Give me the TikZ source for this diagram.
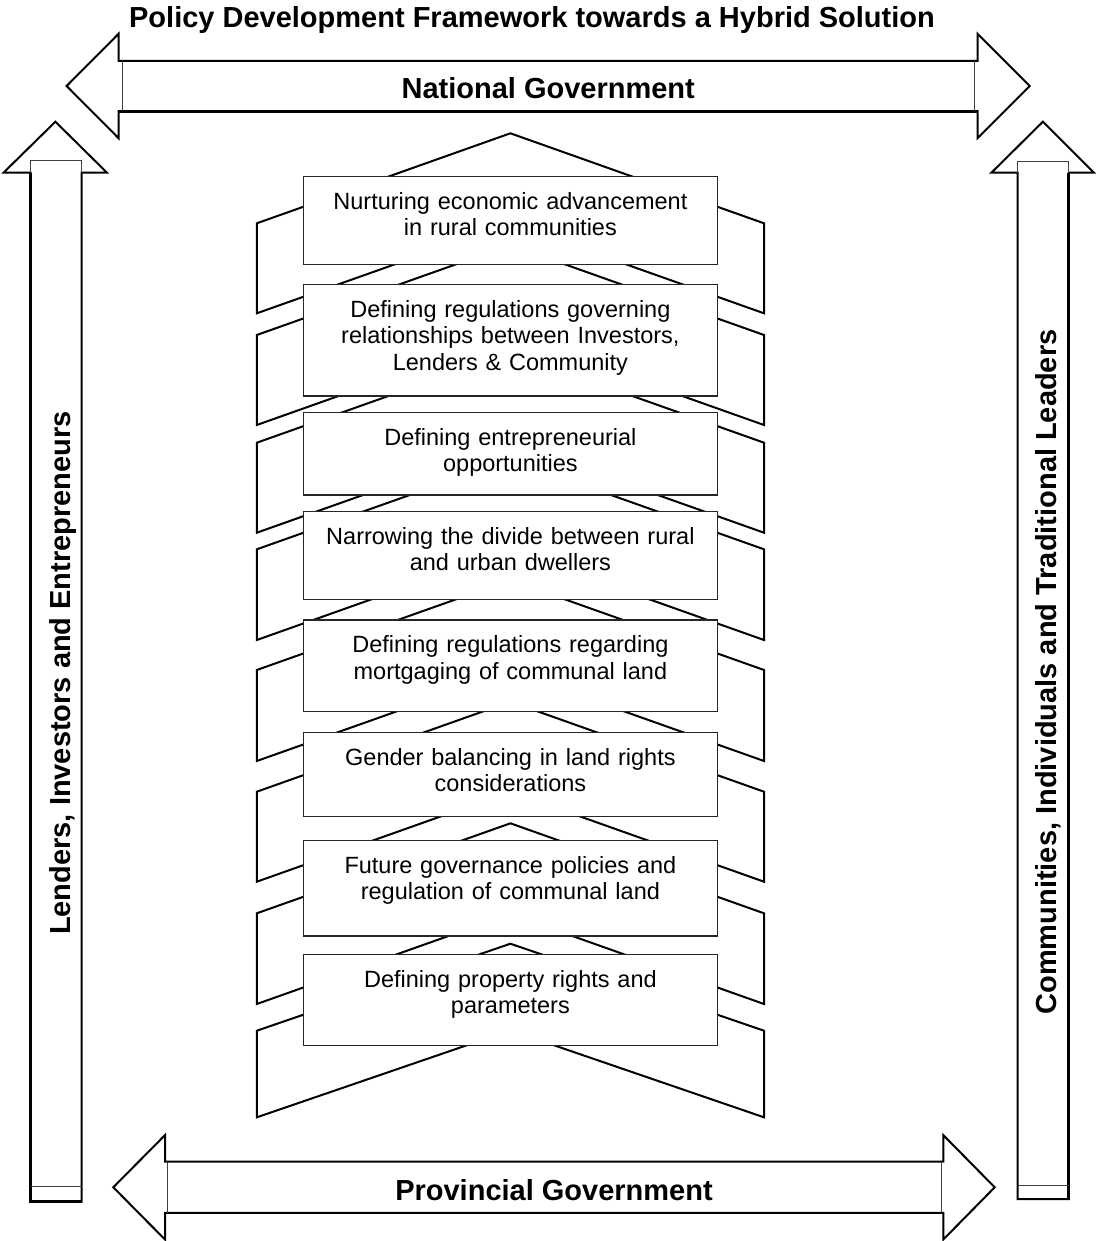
\documentclass[tikz,border=0pt]{standalone}
\usepackage{fontspec}
\setmainfont{Liberation Sans}
\begin{document}
\begin{tikzpicture}[x=1pt,y=-1pt,
  outl/.style={draw=black, line width=2pt, line join=miter, fill=white},
  thickside/.style={draw=black, line width=2.8pt},
  innerline/.style={draw=black!75, line width=0.9pt},
  chev/.style={draw=black, line width=2pt, line join=miter},
  box/.style={draw=black!85, line width=1.2pt, fill=white, minimum width=413.5pt, inner sep=0pt},
  boxtext/.style={font=\fontsize{23.5}{26.6}\selectfont, align=center, text width=410pt, inner sep=0pt, anchor=base},
  big/.style={font=\fontsize{29}{34}\selectfont\bfseries, inner sep=0pt, anchor=base}]
\useasboundingbox (0,0) rectangle (1095,1241);

% title
\node[big] (title) at (532,27.5) {Policy Development Framework towards a Hybrid Solution};

% top double arrow
\draw[outl] (66.6,86) -- (118.6,33.8) -- (118.6,60.8) -- (977.5,60.8) -- (977.5,33.8) -- (1029.7,86)
  -- (977.5,138.2) -- (977.5,111.2) -- (118.6,111.2) -- (118.6,138.2) -- cycle;
\draw[thickside] (118.6,111.2) -- (977.5,111.2);
\draw[innerline] (122,60.8) -- (122,111.2);
\draw[innerline] (974.7,60.8) -- (974.7,111.2);
\node[big] (natgov) at (548.2,98.3) {National Government};

% bottom double arrow
\draw[outl] (113.3,1187.3) -- (165,1135.1) -- (165,1161.7) -- (943.3,1161.7) -- (943.3,1135.1) -- (994.7,1187.3)
  -- (943.3,1239.5) -- (943.3,1212.9) -- (165,1212.9) -- (165,1239.5) -- cycle;
\draw[innerline] (167.6,1161.7) -- (167.6,1212.9);
\draw[innerline] (941,1161.7) -- (941,1212.9);
\node[big] (provgov) at (554,1200) {Provincial Government};

% left vertical arrow
\draw[outl] (55.4,121.7) -- (107,172.7) -- (81.7,172.7) -- (81.7,1201.7) -- (30.7,1201.7) -- (30.7,172.7) -- (3.5,172.7) -- cycle;
\draw[thickside] (30.7,172.7) -- (30.7,1201.7) -- (81.7,1201.7);
\draw[innerline] (30.7,172.7) -- (30.7,160.7) -- (81.7,160.7) -- (81.7,172.7);
\draw[innerline] (30.7,1186) -- (81.7,1186);
\node[big, rotate=90] (lenders) at (70,673) {Lenders, Investors and Entrepreneurs};

% right vertical arrow
\draw[outl] (1042.9,121.7) -- (1094,172.7) -- (1068.8,172.7) -- (1068.8,1199) -- (1017.6,1199) -- (1017.6,172.7) -- (991.4,172.7) -- cycle;
\draw[thickside] (1068.8,172.7) -- (1068.8,1199) -- (1017.6,1199);
\draw[innerline] (1017.6,172.7) -- (1017.6,161.7) -- (1068.8,161.7) -- (1068.8,172.7);
\draw[innerline] (1017.6,1185) -- (1068.8,1185);
\node[big, rotate=90] (communities) at (1056.7,672) {Communities, Individuals and Traditional Leaders};

% stacked chevrons
\foreach \t/\b/\r in {223.3/313.3/90, 335/425/90, 442.7/532.7/90, 549.3/640/90,
                      670/761/90, 791.7/881.7/90, 913.3/1004/90, 1030.7/1117.3/87}{
  \draw[chev] (256.8,\b) -- (256.8,\t) -- (510.4,\t-\r) -- (764,\t) -- (764,\b) -- (510.4,\b-\r) -- cycle;
}

% boxes
\node[box, minimum height=87.6pt] (b1) at (510.4,220.5) {};
\node[box, minimum height=111.7pt] (b2) at (510.4,340.15) {};
\node[box, minimum height=82.3pt] (b3) at (510.4,453.85) {};
\node[box, minimum height=87.6pt] (b4) at (510.4,555.5) {};
\node[box, minimum height=91.7pt] (b5) at (510.4,665.85) {};
\node[box, minimum height=84pt] (b6) at (510.4,774.7) {};
\node[box, minimum height=95.3pt] (b7) at (510.4,888.35) {};
\node[box, minimum height=91.4pt] (b8) at (510.4,1000) {};

\node[boxtext] (t1) at ([yshift=-33pt]b1.north) {Nurturing economic advancement\\in rural communities};
\node[boxtext] (t2) at ([yshift=-33.5pt]b2.north) {Defining regulations governing\\relationships between Investors,\\Lenders \& Community};
\node[boxtext] (t3) at ([yshift=-33pt]b3.north) {Defining entrepreneurial\\opportunities};
\node[boxtext] (t4) at ([yshift=-33pt]b4.north) {Narrowing the divide between rural\\and urban dwellers};
\node[boxtext] (t5) at ([yshift=-33pt]b5.north) {Defining regulations regarding\\mortgaging of communal land};
\node[boxtext] (t6) at ([yshift=-33pt]b6.north) {Gender balancing in land rights\\considerations};
\node[boxtext] (t7) at ([yshift=-33pt]b7.north) {Future governance policies and\\regulation of communal land};
\node[boxtext] (t8) at ([yshift=-33.5pt]b8.north) {Defining property rights and\\parameters};
\end{tikzpicture}
\end{document}
